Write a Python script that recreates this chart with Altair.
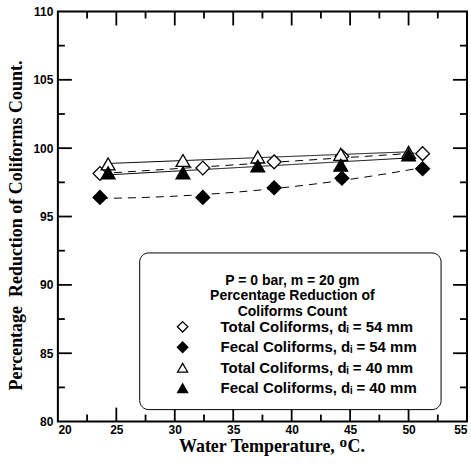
import altair as alt
import pandas as pd

# Measured coliform reductions (%) against water temperature (deg C)
temps_54 = [23.6, 32.4, 38.5, 44.3, 51.2]
total_54 = [98.15, 98.55, 99.0, 99.4, 99.6]
fecal_54 = [96.4, 96.4, 97.1, 97.8, 98.5]

temps_40 = [24.3, 30.7, 37.1, 44.2, 50.0]
total_40 = [98.85, 99.1, 99.35, 99.55, 99.7]
fecal_40 = [98.2, 98.2, 98.7, 98.75, 99.5]

series_names = [
    "Total Coliforms, d\u1d62 = 54 mm",
    "Fecal Coliforms, d\u1d62 = 54 mm",
    "Total Coliforms, d\u1d62 = 40 mm",
    "Fecal Coliforms, d\u1d62 = 40 mm",
]
series_shapes = ["diamond", "diamond", "triangle-up", "triangle-up"]
series_fills = ["white", "black", "white", "black"]
series_dashes = [[8, 6], [8, 6], [1, 0], [1, 0]]
legend_title = "P = 0 bar, m = 20 gm\nPercentage Reduction of\nColiforms Count"

x_ticks = [20, 25, 30, 35, 40, 45, 50, 55]
y_ticks = [80, 85, 90, 95, 100, 105, 110]
x_minor = [22.5, 27.5, 32.5, 37.5, 42.5, 47.5, 52.5]
y_minor = [82.5, 87.5, 92.5, 97.5, 102.5, 107.5]

W, H = 410, 411
SANS = "Liberation Sans"
SERIF = "Liberation Serif"

rows = []
for name, xs, ys in zip(series_names,
                        [temps_54, temps_54, temps_40, temps_40],
                        [total_54, fecal_54, total_40, fecal_40]):
    for t, v in zip(xs, ys):
        rows.append({"series": name, "side": "", "temp": t, "value": v, "tsize": 0})

# Frame tick marks: one anchor per tick on each edge of the frame,
# drawn as a short stroke pointing into the plot (14 px major, 7 px minor)
for v, sz in [(v, 196) for v in x_ticks[1:-1]] + [(v, 49) for v in x_minor]:
    rows.append({"series": "tick", "side": "b", "temp": v, "value": 80, "tsize": sz})
    rows.append({"series": "tick", "side": "t", "temp": v, "value": 110, "tsize": sz})
for v, sz in [(v, 196) for v in y_ticks[1:-1]] + [(v, 49) for v in y_minor]:
    rows.append({"series": "tick", "side": "l", "temp": 20, "value": v, "tsize": sz})
    rows.append({"series": "tick", "side": "r", "temp": 55, "value": v, "tsize": sz})
df = pd.DataFrame(rows)
one_row = pd.DataFrame({"k": [0]})

xscale = alt.Scale(domain=[20, 55], nice=False, zero=False)
yscale = alt.Scale(domain=[80, 110], nice=False, zero=False)

x_axis = alt.Axis(
    values=x_ticks, format="d", ticks=False, tickSize=0, domain=False, grid=False,
    labelFont=SANS, labelFontWeight="bold", labelFontSize=12, labelPadding=3,
    labelColor="black",
    title="Water Temperature, \u1d3cC.", titleFont=SERIF, titleFontSize=18,
    titleFontWeight="bold", titleColor="black",
    titleX=214, titleY=30, titleBaseline="alphabetic", titleAlign="center",
)
y_axis = alt.Axis(
    values=y_ticks, format="d", ticks=False, tickSize=0, domain=False, grid=False,
    labelFont=SANS, labelFontWeight="bold", labelFontSize=12, labelPadding=5,
    labelColor="black",
    title="Percentage\u00a0 Reduction of Coliforms Count.", titleFont=SERIF,
    titleFontSize=18, titleFontWeight="bold", titleColor="black",
    titleX=-41, titleY=214, titleBaseline="middle", titleAlign="center",
)

base = alt.Chart(df)

dash_enc = alt.StrokeDash(
    "series:N", scale=alt.Scale(domain=series_names, range=series_dashes), legend=None
)

# Fitted trend lines: quadratic for fecal 54 mm, linear for the rest
lin_lines = (
    base.transform_filter(alt.FieldOneOfPredicate(
        field="series", oneOf=[series_names[0], series_names[2], series_names[3]]))
    .transform_regression("temp", "value", groupby=["series"])
    .mark_line(color="black", strokeWidth=1)
    .encode(
        x=alt.X("temp:Q", scale=xscale, axis=x_axis),
        y=alt.Y("value:Q", scale=yscale, axis=y_axis),
        strokeDash=dash_enc,
        detail="series:N",
    )
)
poly_line = (
    base.transform_filter(alt.datum.series == series_names[1])
    .transform_regression("temp", "value", groupby=["series"], method="poly", order=2)
    .mark_line(color="black", strokeWidth=1)
    .encode(
        x=alt.X("temp:Q", scale=xscale),
        y=alt.Y("value:Q", scale=yscale),
        strokeDash=dash_enc,
        detail="series:N",
    )
)

points = (
    base.transform_filter(alt.FieldOneOfPredicate(field="series", oneOf=series_names))
    .mark_point(stroke="black", strokeWidth=1.3, opacity=1, size=190)
    .encode(
        x=alt.X("temp:Q", scale=xscale),
        y=alt.Y("value:Q", scale=yscale),
        shape=alt.Shape("series:N", scale=alt.Scale(domain=series_names, range=series_shapes),
                        legend=None),
        fill=alt.Fill("series:N", scale=alt.Scale(domain=series_names, range=series_fills),
                      legend=None),
    )
)

# One stroke symbol per frame side, pointing inward from the anchor
tick_paths = {"b": "M0,0L0,-2", "t": "M0,0L0,2", "l": "M0,0L2,0", "r": "M0,0L-2,0"}
tick_layers = [
    base.transform_filter(alt.datum.side == side)
    .mark_point(shape=path, stroke="black", strokeWidth=1.8, opacity=1, filled=False)
    .encode(
        x=alt.X("temp:Q", scale=xscale),
        y=alt.Y("value:Q", scale=yscale),
        size=alt.Size("tsize:Q", scale=None, legend=None),
    )
    for side, path in tick_paths.items()
]

# Key box inside the plot area
key_box = alt.Chart(one_row).mark_rect(
    fill="white", stroke="black", strokeWidth=1, cornerRadius=9
).encode(x=alt.value(82), x2=alt.value(384), y=alt.value(242), y2=alt.value(399))

key_title = alt.Chart(one_row).mark_text(
    text=legend_title, lineBreak="\n", lineHeight=15.5, font=SANS, fontWeight="bold",
    fontSize=14, color="black", align="center", baseline="top",
).encode(x=alt.value(235), y=alt.value(263))

key_layers = [key_box, key_title]
for i, (name, shp, fil) in enumerate(zip(series_names, series_shapes, series_fills)):
    row_y = 316 + 20.5 * i
    key_layers.append(
        alt.Chart(one_row).mark_point(
            shape=shp, fill=fil, stroke="black", strokeWidth=1.3, opacity=1,
            size=110 if shp == "diamond" else 100,
        ).encode(x=alt.value(125), y=alt.value(row_y))
    )
    key_layers.append(
        alt.Chart(one_row).mark_text(
            text=name, font=SANS, fontWeight="bold", fontSize=15, color="black",
            align="left", baseline="middle",
        ).encode(x=alt.value(163), y=alt.value(row_y))
    )

chart = (
    alt.layer(lin_lines, poly_line, points, *tick_layers, *key_layers)
    .properties(width=W, height=H, padding={"left": 8, "top": 5, "right": 0, "bottom": 0},
                background="white")
    .configure_view(stroke="black", strokeWidth=2)
)

chart.save("out.html", embed_options={"renderer": "svg", "actions": False})
